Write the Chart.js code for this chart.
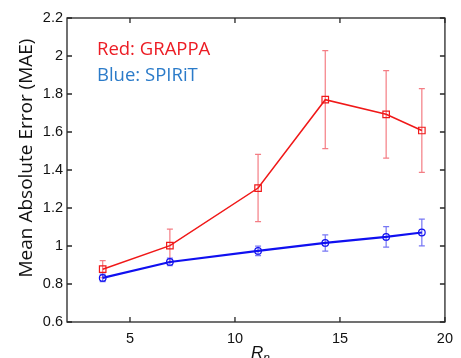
<!DOCTYPE html>
<html id="html">
<head>
<meta charset="utf-8">
<script src="https://cdn.jsdelivr.net/npm/chart.js@4.4.1/dist/chart.umd.min.js"></script>
<style>
html, body { margin:0; padding:0; background:#fff; overflow:hidden; width:461px; height:358px; }
#wrap { width:461px; height:370px; }
</style>
</head>
<body>
<div id="wrap"><canvas id="myChart"></canvas></div>
<script>
// values
const rValues = [3.7, 6.9, 11.1, 14.3, 17.2, 18.9]
const grappaMae = [0.878, 1.002, 1.305, 1.770, 1.693, 1.608]
const grappaErr = [0.045, 0.087, 0.177, 0.258, 0.23, 0.22]
const spiritMae = [0.832, 0.916, 0.974, 1.016, 1.048, 1.071]
const spiritErr = [0.02, 0.02, 0.025, 0.043, 0.054, 0.07]
const xTickValues = [5, 10, 15, 20]
const yTickValues = [0.6, 0.8, 1, 1.2, 1.4, 1.6, 1.8, 2, 2.2]
const legendTexts = ['Red: GRAPPA', 'Blue: SPIRiT']
const legendColors = ['#ec1c24', '#2b7bc9']
const yTitle = 'Mean Absolute Error (MAE)'
const xTitle = ['R', 'n']

const red = '#f01818'
const blue = '#1010f0'

// error bars, drawn through the scales
const errorBars = {
    id: 'errorBars',
    beforeDatasetsDraw(chart) {
        const ctx = chart.ctx
        const x = chart.scales.x, y = chart.scales.y
        const sets = [
            {mae: grappaMae, err: grappaErr, color: 'rgba(240,70,80,0.7)'},
            {mae: spiritMae, err: spiritErr, color: 'rgba(60,60,240,0.7)'}
        ]
        ctx.save()
        ctx.lineWidth = 1.2
        sets.forEach(s => {
            ctx.strokeStyle = s.color
            ctx.beginPath()
            rValues.forEach((r, i) => {
                const px = x.getPixelForValue(r)
                const top = y.getPixelForValue(s.mae[i] + s.err[i])
                const bot = y.getPixelForValue(s.mae[i] - s.err[i])
                ctx.moveTo(px, top); ctx.lineTo(px, bot)
                ctx.moveTo(px - 3, top); ctx.lineTo(px + 3, top)
                ctx.moveTo(px - 3, bot); ctx.lineTo(px + 3, bot)
            })
            ctx.stroke()
        })
        ctx.restore()
    }
}

// matlab style box, inward ticks and the text labels
const boxPlugin = {
    id: 'box',
    afterDraw(chart) {
        const ctx = chart.ctx
        const a = chart.chartArea
        const x = chart.scales.x, y = chart.scales.y
        ctx.save()
        ctx.strokeStyle = '#262626'
        ctx.lineWidth = 1.3
        ctx.beginPath()
        xTickValues.forEach(v => {
            const px = x.getPixelForValue(v)
            ctx.moveTo(px, a.bottom); ctx.lineTo(px, a.bottom - 5)
            ctx.moveTo(px, a.top); ctx.lineTo(px, a.top + 5)
        })
        yTickValues.forEach(v => {
            const py = y.getPixelForValue(v)
            ctx.moveTo(a.left, py); ctx.lineTo(a.left + 5, py)
            ctx.moveTo(a.right, py); ctx.lineTo(a.right - 5, py)
        })
        ctx.stroke()
        ctx.strokeRect(a.left, a.top, a.right - a.left, a.bottom - a.top)

        // legend-like notes
        ctx.font = '18.5px "Open Sans"'
        ctx.textBaseline = 'alphabetic'
        ctx.textAlign = 'left'
        legendTexts.forEach((t, i) => {
            ctx.fillStyle = legendColors[i]
            ctx.fillText(t, a.left + 30, a.top + 37 + i * 26)
        })

        // y title
        ctx.fillStyle = '#111'
        ctx.font = '19px "Open Sans"'
        ctx.save()
        ctx.translate(32, a.top + 140)
        ctx.rotate(-Math.PI / 2)
        ctx.textAlign = 'center'
        ctx.fillText(yTitle, 0, 0)
        ctx.restore()

        // x title with subscript
        const cx = (a.left + a.right) / 2
        ctx.font = 'italic 17px "Liberation Sans"'
        ctx.textAlign = 'left'
        ctx.fillText(xTitle[0], cx - 5, a.bottom + 36)
        const w = ctx.measureText(xTitle[0]).width
        ctx.font = 'italic 12px "Liberation Sans"'
        ctx.fillText(xTitle[1], cx - 5 + w, a.bottom + 40)
        ctx.restore()
    }
}

const ctx = document.getElementById('myChart')
const myChart = new Chart(ctx, {
    type: 'line',
    data: {
        datasets: [{
            label: 'GRAPPA',
            data: rValues.map((r, i) => ({x: r, y: grappaMae[i]})),
            borderColor: red,
            borderWidth: 1.5,
            pointStyle: 'rect',
            pointRadius: 4.6,
            pointBorderWidth: 1.2,
            pointBorderColor: red,
            pointBackgroundColor: 'transparent',
            tension: 0
        }, {
            label: 'SPIRiT',
            data: rValues.map((r, i) => ({x: r, y: spiritMae[i]})),
            borderColor: blue,
            borderWidth: 2.2,
            pointStyle: 'circle',
            pointRadius: 3.3,
            pointBorderWidth: 1.2,
            pointBorderColor: blue,
            pointBackgroundColor: 'transparent',
            tension: 0
        }]
    },
    options: {
        responsive: true,
        maintainAspectRatio: false,
        animation: false,
        layout: {padding: {top: 18, right: 11, left: 0, bottom: 0}},
        plugins: {legend: {display: false}, tooltip: {enabled: false}},
        scales: {
            x: {
                type: 'linear',
                min: 2,
                max: 20,
                afterBuildTicks: (axis) => { axis.ticks = xTickValues.map(v => ({value: v})) },
                afterFit: (axis) => { axis.height = 48 },
                grid: {display: false, drawTicks: false},
                border: {display: false},
                ticks: {
                    padding: 8,
                    color: '#111',
                    font: {family: '"Liberation Sans"', size: 14.5},
                    callback: (v) => String(v)
                }
            },
            y: {
                min: 0.6,
                max: 2.2,
                afterBuildTicks: (axis) => { axis.ticks = yTickValues.map(v => ({value: v})) },
                afterFit: (axis) => { axis.width = 67 },
                grid: {display: false, drawTicks: false},
                border: {display: false},
                ticks: {
                    padding: 4,
                    color: '#111',
                    font: {family: '"Liberation Sans"', size: 14.5},
                    callback: (v) => String(v)
                }
            }
        }
    },
    plugins: [errorBars, boxPlugin]
})
</script>
</body>
</html>
